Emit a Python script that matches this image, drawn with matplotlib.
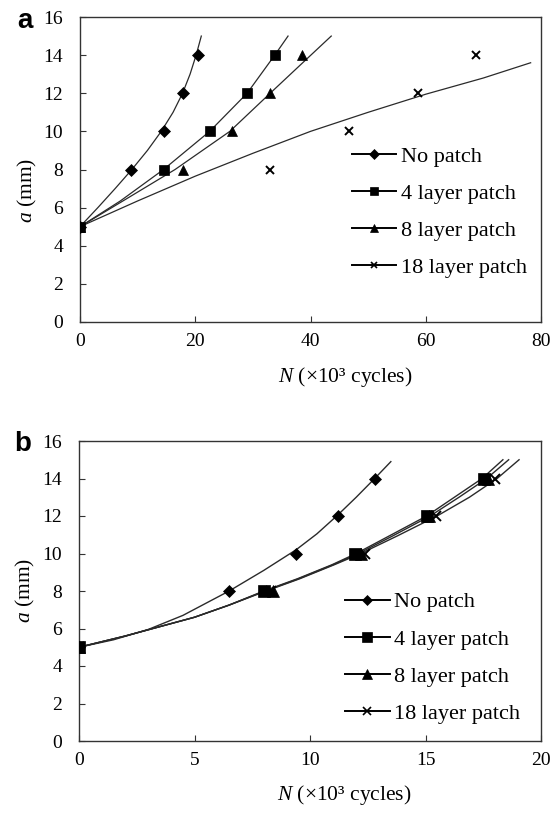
"""Crack length a vs. cycles N, unpatched and patched plates (panels a and b)."""

import matplotlib.pyplot as plt

plt.rcParams["font.family"] = ["Liberation Serif", "DejaVu Serif"]
plt.rcParams["mathtext.fontset"] = "custom"
plt.rcParams["mathtext.rm"] = "Liberation Serif"
plt.rcParams["mathtext.it"] = "Liberation Serif:italic"

labels = ["No patch", "4 layer patch", "8 layer patch", "18 layer patch"]
markers = ["D", "s", "^", "x"]

# ---- panel a: experiment points (markers)
a_pts = [5, 8, 10, 12, 14]
a_N_nopatch = [0, 8.9, 14.5, 17.9, 20.4]
a_N_4 = [0, 14.5, 22.5, 29.0, 33.8]
a_N_8 = [0, 17.9, 26.4, 33.0, 38.6]
a_N_18 = [0, 33.0, 46.6, 58.6, 68.7]

# ---- panel a: predicted curves (lines)
a_line_nopatch_N = [0, 3.1, 6.1, 9.0, 11.7, 14.1, 16.15, 17.8, 19.1, 20.15, 21.05]
a_line_nopatch_a = [5, 6, 7, 8, 9, 10, 11, 12, 13, 14, 15]
a_line_4_N = [0, 7, 14.5, 22.5, 29.0, 33.8, 36.1]
a_line_4_a = [5, 6.35, 8, 10, 12, 14, 15]
a_line_8_N = [0, 8, 16.5, 26.0, 33.0, 39.0, 43.6]
a_line_8_a = [5, 6.45, 8, 10, 12, 13.7, 15]
a_line_18_N = [0, 10, 20, 30, 40, 50, 60, 70, 78.2]
a_line_18_a = [5, 6.35, 7.65, 8.85, 10.0, 11.0, 11.95, 12.8, 13.6]

# ---- panel b: experiment points
b_pts = [5, 8, 10, 12, 14]
b_N_nopatch = [0, 6.5, 9.4, 11.2, 12.8]
b_N_4 = [0, 8.0, 11.95, 15.05, 17.55]
b_N_8 = [0, 8.4, 12.2, 15.15, 17.7]
b_N_18 = [0, 8.3, 12.4, 15.45, 18.0]

# ---- panel b: predicted curves
b_line_nopatch_N = [0, 1.5, 3, 4.5, 6.5, 8, 9.4, 10.3, 11.2, 12.0, 12.8, 13.5]
b_line_nopatch_a = [5, 5.4, 5.95, 6.7, 8.0, 9.1, 10.2, 11.05, 12.05, 13.0, 14.0, 14.9]
b_line_a = [5, 5.6, 6.1, 6.6, 7.25, 8.0, 8.65, 9.4, 10, 10.95, 12, 13, 14, 15]
b_line_4_N = [0, 2, 3.5, 5, 6.5, 8.0, 9.45, 10.95, 12.0, 13.45, 15.05, 16.25, 17.45, 18.35]
b_line_8_N = [0, 2, 3.5, 5, 6.5, 8.05, 9.5, 11.0, 12.1, 13.6, 15.2, 16.45, 17.65, 18.6]
b_line_18_N = [0, 2, 3.5, 5, 6.5, 8.1, 9.55, 11.05, 12.2, 13.8, 15.5, 16.9, 18.1, 19.05]

LINE = "#2a2a2a"

fig = plt.figure(figsize=(5.52, 8.14), dpi=100)


def px_axes(left, right, top, bottom):
    W, H = 552, 814
    return fig.add_axes([left / W, 1 - bottom / H, (right - left) / W, (bottom - top) / H])


def style(ax, xmax, xstep):
    ax.set_xlim(0, xmax)
    ax.set_ylim(0, 16)
    ax.set_xticks(range(0, xmax + 1, xstep))
    ax.set_yticks(range(0, 17, 2))
    ax.tick_params(direction="in", length=4, width=0.8, labelsize=14, color="#333333")
    ax.tick_params(axis="x", pad=8)
    ax.tick_params(axis="y", pad=12)
    for sp in ax.spines.values():
        sp.set_linewidth(1.0)
        sp.set_color("#333333")
    ax.set_xlabel(r"$N$ (×10³ cycles)", fontsize=15.5)
    ax.set_ylabel(r"$a$ (mm)", fontsize=15.5)


def draw(ax, lines, points, a_vals, ms, lw):
    for (lx, ly), px, m, lab in zip(lines, points, markers, labels):
        ax.plot(lx, ly, color=LINE, lw=lw, zorder=2)
        ax.plot(px, a_vals, ls="none", marker=m, ms=ms[m], color="black",
                mew=1.4 if m == "x" else 0.5, zorder=3)
        # legend proxy
        ax.plot([], [], color="black", lw=1.4, marker=m, ms=ms[m] * 0.8,
                mew=1.2 if m == "x" else 0.5, label=lab)


leg_kw = dict(loc="upper left", frameon=False, fontsize=16, handlelength=2.0,
              handletextpad=0.2, labelspacing=0.75, borderpad=0, borderaxespad=0)

# ---------------- panel a
ax1 = px_axes(80, 541, 17, 322)
draw(ax1,
     [(a_line_nopatch_N, a_line_nopatch_a), (a_line_4_N, a_line_4_a),
      (a_line_8_N, a_line_8_a), (a_line_18_N, a_line_18_a)],
     [a_N_nopatch, a_N_4, a_N_8, a_N_18], a_pts,
     {"D": 6, "s": 7.5, "^": 7.5, "x": 6}, 0.9)
style(ax1, 80, 20)
ax1.xaxis.set_label_coords(0.575, -0.14)
ax1.yaxis.set_label_coords(-0.09, 0.43)
ax1.legend(bbox_to_anchor=(0.59, 0.577), **leg_kw)
fig.text(25 / 552, 1 - 21 / 814, "a", family="Liberation Sans", weight="bold",
         fontsize=20, ha="center", va="center")

# ---------------- panel b
ax2 = px_axes(79, 541, 441, 741)
draw(ax2,
     [(b_line_nopatch_N, b_line_nopatch_a), (b_line_4_N, b_line_a),
      (b_line_8_N, b_line_a), (b_line_18_N, b_line_a)],
     [b_N_nopatch, b_N_4, b_N_8, b_N_18], b_pts,
     {"D": 6.5, "s": 8.5, "^": 8.5, "x": 7}, 1.0)
style(ax2, 20, 5)
ax2.xaxis.set_label_coords(0.575, -0.14)
ax2.yaxis.set_label_coords(-0.09, 0.5)
ax2.legend(bbox_to_anchor=(0.576, 0.497), **leg_kw)
fig.text(23 / 552, 1 - 444 / 814, "b", family="Liberation Sans", weight="bold",
         fontsize=20, ha="center", va="center")

fig.savefig("out.png", dpi=100, facecolor="white")
